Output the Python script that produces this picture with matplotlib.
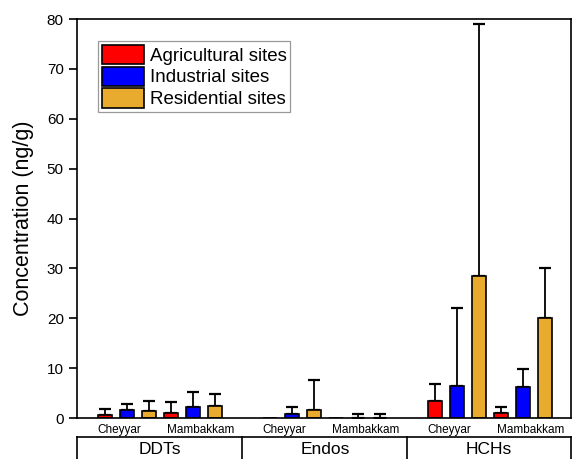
import numpy as np
import matplotlib
matplotlib.use("Agg")
import matplotlib.pyplot as plt
import matplotlib.transforms as mtransforms

plt.rcParams['font.family'] = ['Liberation Sans', 'DejaVu Sans']

# data (mean and upper SD), order: DDTs C, DDTs M, Endos C, Endos M, HCHs C, HCHs M
compounds = ["DDTs", "Endos", "HCHs"]
sites = ["Cheyyar", "Mambakkam"]
series = ["Agricultural sites", "Industrial sites", "Residential sites"]
agri = [0.55, 1.05, 0.0, 0.0, 3.4, 1.05]
agri_sd = [1.2, 2.15, 0.0, 0.0, 3.4, 1.25]
ind = [1.55, 2.3, 0.9, 0.1, 6.4, 6.2]
ind_sd = [1.3, 2.9, 1.4, 0.8, 15.7, 3.7]
res = [1.4, 2.4, 1.7, 0.1, 28.4, 20.0]
res_sd = [2.0, 2.5, 5.9, 0.7, 50.6, 10.1]
colors = ["#ff0000", "#0000ff", "#e8ab2e"]

fig = plt.figure(figsize=(5.74, 4.59), dpi=100)
ax = fig.add_axes([0.1341, 0.0893, 0.8606, 0.8693])

# subgroup centres: 3 bar slots per site, 1.5 slot gap between compounds
centers = np.array([i * 7.5 + j * 3 for i in range(len(compounds)) for j in range(len(sites))])
width = 0.66

for k, (vals, sds) in enumerate([(agri, agri_sd), (ind, ind_sd), (res, res_sd)]):
    x = centers + (k - 1)
    vals = np.array(vals)
    sds = np.array(sds)
    ax.bar(x, vals, width, color=colors[k], edgecolor="black", linewidth=1.2,
           label=series[k], zorder=2)
    m = vals > 0
    ax.errorbar(x[m], vals[m], yerr=[np.zeros(m.sum()), sds[m]], fmt="none",
                ecolor="black", elinewidth=1.3, capsize=4, capthick=1.6, zorder=1)

ax.set_ylim(0, 80)
ax.set_yticks(np.arange(0, 81, 10))
ax.set_xlim(-2.27, 20.18)
ax.set_ylabel("Concentration (ng/g)", fontsize=15.5, labelpad=9)
ax.tick_params(axis="y", direction="out", length=6, width=1.2, labelsize=11, pad=3.5)

# site labels, slightly shifted from the bar group centres
lab_x = [c + (-0.36 if j == 0 else 0.36) for c, j in zip(centers, [0, 1] * 3)]
ax.set_xticks(lab_x)
ax.set_xticklabels(sites * 3, fontsize=8.5)
ax.tick_params(axis="x", length=0, pad=4)

for s in ax.spines.values():
    s.set_linewidth(1.2)

# compound group boxes below the axis
trans = mtransforms.blended_transform_factory(ax.transData, ax.transAxes)
xmin, xmax = ax.get_xlim()
dividers = [xmin, (centers[1] + centers[2]) / 2, (centers[3] + centers[4]) / 2, xmax]
ax.plot([xmin, xmax], [-0.0476, -0.0476], color="black", lw=1.2, transform=trans, clip_on=False)
for d in dividers:
    ax.plot([d, d], [-0.0476, -0.2], color="black", lw=1.2, transform=trans, clip_on=False)
for i, name in enumerate(compounds):
    ax.text((dividers[i] + dividers[i + 1]) / 2, -0.0777, name, transform=trans,
            ha="center", va="center", fontsize=12.5)

leg = ax.legend(loc="upper left", bbox_to_anchor=(0.0425, 0.945), fontsize=13.5,
                handlelength=2.25, handleheight=1.2, labelspacing=0.1,
                handletextpad=0.3, borderpad=0.2, borderaxespad=0,
                fancybox=False, frameon=True)
leg.get_frame().set_edgecolor("#808080")
leg.get_frame().set_linewidth(0.9)

fig.savefig("out.png", dpi=100)
